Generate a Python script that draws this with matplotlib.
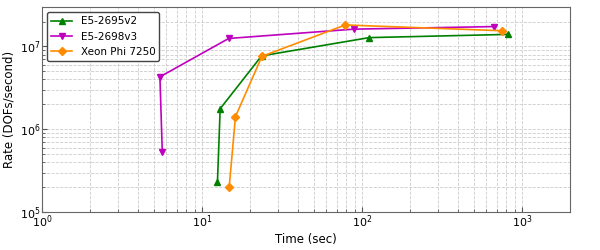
import numpy as np
import matplotlib
matplotlib.use('Agg')
import matplotlib.pyplot as plt

# time (sec) vs rate (DOFs/second)
v2_time = [12.5, 13.0, 23.6, 111, 821]
v2_rate = [2.3e5, 1.77e6, 7.7e6, 1.28e7, 1.4e7]

v3_time = [5.65, 5.46, 14.7, 89, 668]
v3_rate = [5.3e5, 4.3e6, 1.25e7, 1.62e7, 1.74e7]

phi_time = [14.8, 16.2, 23.7, 78.7, 747]
phi_rate = [2.0e5, 1.42e6, 7.6e6, 1.82e7, 1.55e7]

labels = ['E5-2695v2', 'E5-2698v3', 'Xeon Phi 7250']

fig = plt.figure(figsize=(6, 2.5), dpi=100)
ax = fig.add_axes([0.07, 0.152, 0.88, 0.82])

ax.plot(v2_time, v2_rate, color='green', marker='^', ms=4, lw=1.2, label=labels[0])
ax.plot(v3_time, v3_rate, color='m', marker='v', ms=4, lw=1.2, label=labels[1])
ax.plot(phi_time, phi_rate, color='darkorange', marker='D', ms=4, lw=1.2, label=labels[2])

ax.set_xscale('log')
ax.set_yscale('log')
ax.set_xlim(1, 2000)
ax.set_ylim(1e5, 3e7)
ax.grid(True, which='both', ls='--', color='#cccccc', lw=0.6)
ax.set_axisbelow(True)
ax.tick_params(which='both', direction='in', labelsize=8, color='#555555', pad=1)
for s in ax.spines.values():
    s.set_color('#666666')

ax.set_xlabel('Time (sec)', fontsize=8.5, labelpad=2)
ax.set_ylabel('Rate (DOFs/second)', fontsize=8.5, labelpad=3)
leg = ax.legend(loc='upper left', fontsize=7.5, fancybox=True, edgecolor='#444444', framealpha=1)

plt.savefig('out.png')
